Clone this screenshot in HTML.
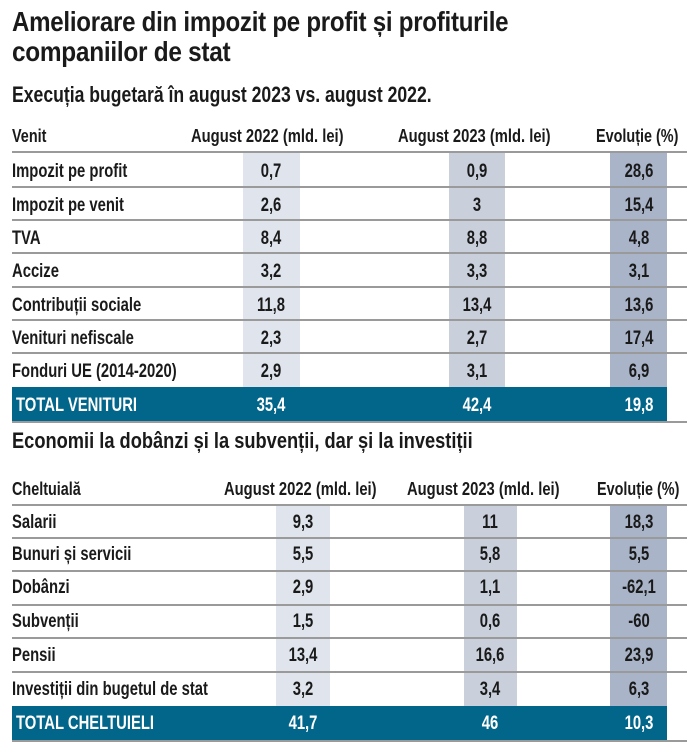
<!DOCTYPE html>
<html><head><meta charset="utf-8"><style>
body{margin:0;width:699px;height:753px;background:#fff;position:relative;overflow:hidden;font-family:"Liberation Sans",sans-serif;font-weight:bold;color:#1a1a1a}
.t{position:absolute;white-space:nowrap;line-height:1;transform-origin:left center}
.r{transform:scaleX(.78)}
.c{position:absolute;white-space:nowrap;line-height:1;transform:translateX(-50%) scaleX(.78);font-size:19px}
.b{position:absolute}
.l{position:absolute;left:12px;width:675px;height:2px;background:#9a9a9a}
.w{color:#fff}
</style></head><body>
<div class="t" style="left:12px;top:8px;font-size:28px;transform:scaleX(.86);letter-spacing:-.3px">Ameliorare din impozit pe profit și profiturile</div>
<div class="t" style="left:12px;top:38px;font-size:28px;transform:scaleX(.87);letter-spacing:-.3px">companiilor de stat</div>
<div class="t" style="left:12px;top:84px;font-size:22px;transform:scaleX(.8)">Execuția bugetară în august 2023 vs. august 2022.</div>

<div class="b" style="left:243px;top:153px;width:57px;height:234px;background:#dfe4ed"></div>
<div class="b" style="left:449px;top:153px;width:56px;height:234px;background:#c9d0dc"></div>
<div class="b" style="left:610px;top:153px;width:57px;height:234px;background:#a9b4c8"></div>
<div class="b" style="left:12px;top:387px;width:655px;height:34px;background:#02668a"></div>
<div class="l" style="top:151px"></div>
<div class="l" style="top:186px"></div>
<div class="l" style="top:219px"></div>
<div class="l" style="top:252px"></div>
<div class="l" style="top:286px"></div>
<div class="l" style="top:319px"></div>
<div class="l" style="top:352px"></div>
<div class="l" style="top:421px"></div>

<div class="t" style="left:12px;top:127px;font-size:18px;transform:scaleX(.8)">Venit</div>
<div class="t" style="left:191px;top:127px;font-size:18px;transform:scaleX(.82)">August 2022 (mld. lei)</div>
<div class="t" style="left:398px;top:127px;font-size:18px;transform:scaleX(.82)">August 2023 (mld. lei)</div>
<div class="t" style="left:596px;top:127px;font-size:18px;transform:scaleX(.8)">Evoluție (%)</div>

<div class="t r" style="left:12px;top:162px;font-size:19px">Impozit pe profit</div>
<div class="c" style="left:271px;top:162px">0,7</div><div class="c" style="left:477px;top:162px">0,9</div><div class="c" style="left:639px;top:162px">28,6</div>
<div class="t r" style="left:12px;top:196px;font-size:19px">Impozit pe venit</div>
<div class="c" style="left:271px;top:196px">2,6</div><div class="c" style="left:477px;top:196px">3</div><div class="c" style="left:639px;top:196px">15,4</div>
<div class="t r" style="left:12px;top:229px;font-size:19px">TVA</div>
<div class="c" style="left:271px;top:229px">8,4</div><div class="c" style="left:477px;top:229px">8,8</div><div class="c" style="left:639px;top:229px">4,8</div>
<div class="t r" style="left:12px;top:262px;font-size:19px">Accize</div>
<div class="c" style="left:271px;top:262px">3,2</div><div class="c" style="left:477px;top:262px">3,3</div><div class="c" style="left:639px;top:262px">3,1</div>
<div class="t r" style="left:12px;top:296px;font-size:19px">Contribuții sociale</div>
<div class="c" style="left:271px;top:296px">11,8</div><div class="c" style="left:477px;top:296px">13,4</div><div class="c" style="left:639px;top:296px">13,6</div>
<div class="t r" style="left:12px;top:329px;font-size:19px">Venituri nefiscale</div>
<div class="c" style="left:271px;top:329px">2,3</div><div class="c" style="left:477px;top:329px">2,7</div><div class="c" style="left:639px;top:329px">17,4</div>
<div class="t r" style="left:12px;top:362px;font-size:19px">Fonduri UE (2014-2020)</div>
<div class="c" style="left:271px;top:362px">2,9</div><div class="c" style="left:477px;top:362px">3,1</div><div class="c" style="left:639px;top:362px">6,9</div>
<div class="t r w" style="left:16px;top:396px;font-size:19px">TOTAL VENITURI</div>
<div class="c w" style="left:271px;top:396px">35,4</div><div class="c w" style="left:477px;top:396px">42,4</div><div class="c w" style="left:639px;top:396px">19,8</div>

<div class="t" style="left:12px;top:430px;font-size:22px;transform:scaleX(.83)">Economii la dobânzi și la subvenții, dar și la investiții</div>

<div class="b" style="left:276px;top:506px;width:54px;height:200px;background:#dfe4ed"></div>
<div class="b" style="left:464px;top:506px;width:53px;height:200px;background:#c9d0dc"></div>
<div class="b" style="left:610px;top:506px;width:57px;height:200px;background:#a9b4c8"></div>
<div class="b" style="left:12px;top:706px;width:655px;height:34px;background:#02668a"></div>
<div class="l" style="top:504px"></div>
<div class="l" style="top:537px"></div>
<div class="l" style="top:570px"></div>
<div class="l" style="top:604px"></div>
<div class="l" style="top:637px"></div>
<div class="l" style="top:671px"></div>
<div class="l" style="top:740px"></div>

<div class="t" style="left:12px;top:480px;font-size:18px;transform:scaleX(.8)">Cheltuială</div>
<div class="t" style="left:224px;top:480px;font-size:18px;transform:scaleX(.82)">August 2022 (mld. lei)</div>
<div class="t" style="left:407px;top:480px;font-size:18px;transform:scaleX(.82)">August 2023 (mld. lei)</div>
<div class="t" style="left:597px;top:480px;font-size:18px;transform:scaleX(.8)">Evoluție (%)</div>

<div class="t r" style="left:12px;top:513px;font-size:19px">Salarii</div>
<div class="c" style="left:303px;top:513px">9,3</div><div class="c" style="left:490px;top:513px">11</div><div class="c" style="left:639px;top:513px">18,3</div>
<div class="t r" style="left:12px;top:545px;font-size:19px">Bunuri și servicii</div>
<div class="c" style="left:303px;top:545px">5,5</div><div class="c" style="left:490px;top:545px">5,8</div><div class="c" style="left:639px;top:545px">5,5</div>
<div class="t r" style="left:12px;top:578px;font-size:19px">Dobânzi</div>
<div class="c" style="left:303px;top:578px">2,9</div><div class="c" style="left:490px;top:578px">1,1</div><div class="c" style="left:639px;top:578px">-62,1</div>
<div class="t r" style="left:12px;top:612px;font-size:19px">Subvenții</div>
<div class="c" style="left:303px;top:612px">1,5</div><div class="c" style="left:490px;top:612px">0,6</div><div class="c" style="left:639px;top:612px">-60</div>
<div class="t r" style="left:12px;top:646px;font-size:19px">Pensii</div>
<div class="c" style="left:303px;top:646px">13,4</div><div class="c" style="left:490px;top:646px">16,6</div><div class="c" style="left:639px;top:646px">23,9</div>
<div class="t r" style="left:12px;top:680px;font-size:19px">Investiții din bugetul de stat</div>
<div class="c" style="left:303px;top:680px">3,2</div><div class="c" style="left:490px;top:680px">3,4</div><div class="c" style="left:639px;top:680px">6,3</div>
<div class="t r w" style="left:16px;top:714px;font-size:19px">TOTAL CHELTUIELI</div>
<div class="c w" style="left:303px;top:714px">41,7</div><div class="c w" style="left:490px;top:714px">46</div><div class="c w" style="left:639px;top:714px">10,3</div>
</body></html>
